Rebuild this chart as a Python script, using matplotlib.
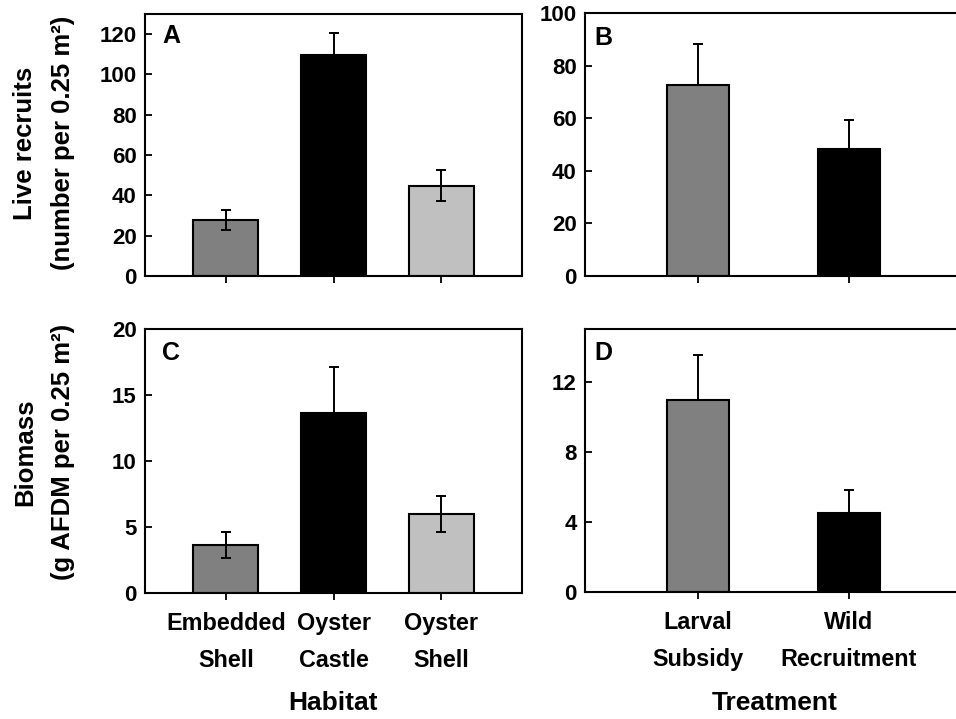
import matplotlib
matplotlib.use('Agg')
import matplotlib.pyplot as plt

plt.rcParams['font.family'] = ['Liberation Sans', 'DejaVu Sans']
plt.rcParams['font.weight'] = 'bold'

# datos
habitats = ['Embedded\nShell', 'Oyster\nCastle', 'Oyster\nShell']
reclutas_habitat = [27.8, 109.5, 44.9]
err_reclutas_habitat = [5.1, 11.3, 7.5]
biomasa_habitat = [3.65, 13.6, 6.0]
err_biomasa_habitat = [1.0, 3.5, 1.35]

tratamientos = ['Larval\nSubsidy', 'Wild\nRecruitment']
reclutas_trat = [72.8, 48.4]
err_reclutas_trat = [15.5, 11.0]
biomasa_trat = [10.95, 4.53]
err_biomasa_trat = [2.58, 1.26]

colores_habitat = ['#808080', '#000000', '#c0c0c0']
colores_trat = ['#808080', '#000000']

fig = plt.figure(figsize=(9.56, 7.19), dpi=100)
W, H = 956.0, 719.0

def caja(x0, y0, x1, y1):
    # convierte pixeles a fraccion de figura
    return [x0 / W, 1 - y1 / H, (x1 - x0) / W, (y1 - y0) / H]

axA = fig.add_axes(caja(145, 14, 522, 276))
axB = fig.add_axes(caja(585, 13, 959, 276))
axC = fig.add_axes(caja(145, 329, 522, 593))
axD = fig.add_axes(caja(585, 329, 959, 592))


def panel(ax, etiquetas, valores, errores, colores, ancho, xlim, ylim, yticks, letra, solo_arriba, mostrar_x):
    x = list(range(len(valores)))
    ax.bar(x, valores, width=ancho, color=colores, edgecolor='black', linewidth=1.5, zorder=2)
    if solo_arriba:
        yerr = [[0] * len(errores), errores]
    else:
        yerr = errores
    ax.errorbar(x, valores, yerr=yerr, fmt='none', ecolor='black', elinewidth=1.4,
                capsize=3.3, capthick=1.4, zorder=3)
    ax.set_xlim(*xlim)
    ax.set_ylim(*ylim)
    ax.set_yticks(yticks)
    ax.set_xticks(x)
    if mostrar_x:
        ax.set_xticklabels(etiquetas, fontsize=16.8, fontweight='bold', linespacing=1.75)
    else:
        ax.set_xticklabels([])
    for s in ax.spines.values():
        s.set_linewidth(1.5)
    ax.tick_params(axis='y', direction='in', length=5, width=1.3, labelsize=16, pad=6)
    ax.tick_params(axis='x', direction='out', length=5, width=1.3, pad=9)
    for t in ax.get_yticklabels():
        t.set_fontweight('bold')
    ax.text(letra[1], letra[2], letra[0], transform=ax.transAxes, fontsize=18,
            fontweight='bold', ha='left', va='top')


panel(axA, habitats, reclutas_habitat, err_reclutas_habitat, colores_habitat, 0.6,
      (-0.75, 2.75), (0, 130), [0, 20, 40, 60, 80, 100, 120], ('A', 0.045, 0.96), False, False)
panel(axB, tratamientos, reclutas_trat, err_reclutas_trat, colores_trat, 0.41,
      (-0.75, 1.73), (0, 100), [0, 20, 40, 60, 80, 100], ('B', 0.025, 0.95), True, False)
panel(axC, habitats, biomasa_habitat, err_biomasa_habitat, colores_habitat, 0.6,
      (-0.75, 2.75), (0, 20), [0, 5, 10, 15, 20], ('C', 0.045, 0.955), False, True)
panel(axD, tratamientos, biomasa_trat, err_biomasa_trat, colores_trat, 0.41,
      (-0.75, 1.73), (0, 15), [0, 4, 8, 12], ('D', 0.025, 0.955), True, True)

# etiquetas de ejes
fig.text(44 / W, 1 - 143 / H, 'Live recruits\n(number per 0.25 m²)', rotation=90,
         ha='center', va='center', fontsize=18.5, fontweight='bold', linespacing=1.7)
fig.text(44 / W, 1 - 452 / H, 'Biomass\n(g AFDM per 0.25 m²)', rotation=90,
         ha='center', va='center', fontsize=18.5, fontweight='bold', linespacing=1.7)
fig.text(333 / W, 1 - 703 / H, 'Habitat', ha='center', va='center', fontsize=19, fontweight='bold')
fig.text(775 / W, 1 - 703 / H, 'Treatment', ha='center', va='center', fontsize=19, fontweight='bold')

fig.savefig('out.png', dpi=100)
